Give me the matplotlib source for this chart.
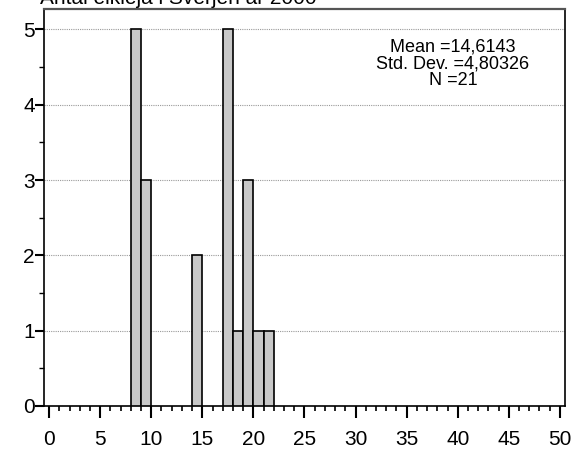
import numpy as np
import matplotlib.pyplot as plt
from matplotlib.ticker import MultipleLocator

plt.rcParams['font.family'] = ['Liberation Sans', 'DejaVu Sans']

# histogram bins (left edge) and counts
bin_left = [8, 9, 14, 17, 18, 19, 20, 21]
counts = [5, 3, 2, 5, 1, 3, 1, 1]
title = 'Antal elkleja i Sverjen år 2000'
stats = 'Mean =14,6143\nStd. Dev. =4,80326\nN =21'

fig = plt.figure(figsize=(5.75, 4.57), dpi=100)
ax = fig.add_axes([0.0765, 0.1116, 0.9061, 0.8687])

ax.bar(bin_left, counts, width=1, align='edge', color='#c8c8c8',
       edgecolor='black', linewidth=1.2, zorder=3)

ax.set_xlim(-0.5, 50.5)
ax.set_ylim(0, 5.27)
ax.set_xticks(np.arange(0, 51, 5))
ax.xaxis.set_minor_locator(MultipleLocator(1))
ax.set_yticks(range(6))
ax.yaxis.set_minor_locator(MultipleLocator(0.5))

ax.yaxis.grid(True, which='major', color='#999999', linestyle=(0, (1, 1)),
              linewidth=0.8, zorder=0)

ax.tick_params(axis='x', which='major', direction='out', length=8.6, width=1.5,
               labelsize=15, pad=9)
ax.tick_params(axis='x', which='minor', direction='out', length=3.8, width=1.2)
ax.tick_params(axis='y', which='major', direction='out', length=6.5, width=1.5,
               labelsize=15, pad=0)
ax.tick_params(axis='y', which='minor', direction='out', length=3.5, width=1)

for s in ['left', 'right', 'bottom']:
    ax.spines[s].set_linewidth(1.2)
ax.spines['top'].set_color('#555555')
ax.spines['top'].set_linewidth(1.6)

ax.text(0.785, 0.925, stats, transform=ax.transAxes, ha='center', va='top',
        fontsize=13, linespacing=0.98)

fig.text(40 / 575, 1 - 4 / 457, title, ha='left', va='baseline', fontsize=15)

fig.savefig('out.png', dpi=100)
